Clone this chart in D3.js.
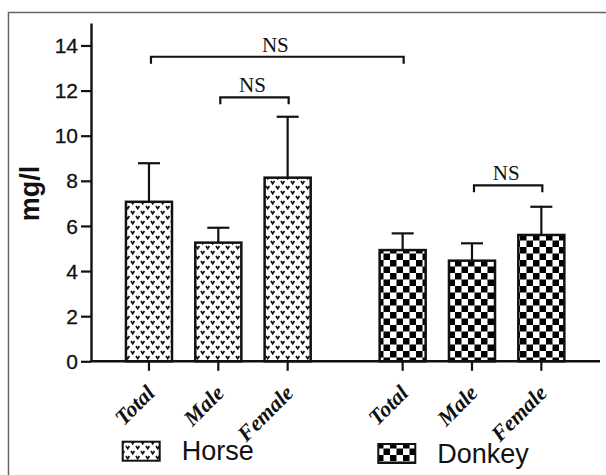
<!DOCTYPE html>
<html><head><meta charset="utf-8">
<script src="https://cdn.jsdelivr.net/npm/d3@7"></script>
<style>body{margin:0;background:#fff}svg{display:block}</style>
</head><body>
<svg id="c" width="606" height="475"></svg>
<script>
const groups = ["Horse", "Donkey"];
const subcats = ["Total", "Male", "Female"];
const horseMeans = [7.07, 5.26, 8.14];
const horseUpper = [8.78, 5.92, 10.84];
const donkeyMeans = [4.93, 4.46, 5.60];
const donkeyUpper = [5.67, 5.23, 6.85];
const yTicks = [0, 2, 4, 6, 8, 10, 12, 14];
const yLabel = "mg/l";
const brackets = [
  {g1: "Horse", c1: "Total", g2: "Donkey", c2: "Total", y: 13.5, label: "NS"},
  {g1: "Horse", c1: "Male", g2: "Horse", c2: "Female", y: 11.7, label: "NS"},
  {g1: "Donkey", c1: "Male", g2: "Donkey", c2: "Female", y: 7.8, label: "NS"}
];

const svg = d3.select("#c");
const defs = svg.append("defs");
const ph = defs.append("pattern").attr("id", "pHorse").attr("patternUnits", "userSpaceOnUse")
  .attr("width", 10).attr("height", 10);
ph.append("rect").attr("width", 10).attr("height", 10).attr("fill", "#fff");
[[1,1],[6,6]].forEach(([x,y]) => {
  ph.append("path").attr("d", `M${x},${y} l1.7,2.6 l1.7,-2.6`).attr("fill", "none")
    .attr("stroke", "#111").attr("stroke-width", 1.7);
});
const pd = defs.append("pattern").attr("id", "pDonkey").attr("patternUnits", "userSpaceOnUse")
  .attr("width", 13).attr("height", 13);
pd.append("rect").attr("width", 13).attr("height", 13).attr("fill", "#fff");
pd.append("rect").attr("width", 6.5).attr("height", 6.5).attr("fill", "#000");
pd.append("rect").attr("x", 6.5).attr("y", 6.5).attr("width", 6.5).attr("height", 6.5).attr("fill", "#000");

const fills = {Horse: "url(#pHorse)", Donkey: "url(#pDonkey)"};

svg.append("path").attr("d", "M8.5,475 V12.5 H606").attr("fill", "none")
  .attr("stroke", "#666").attr("stroke-width", 1.5);

const y = d3.scaleLinear().domain([0, 15]).range([361.3, 22.9]);
const x0 = d3.scaleBand().domain(groups).range([114.3, 576]).paddingInner(0.18).paddingOuter(0);
const x1 = d3.scaleBand().domain(subcats).range([0, x0.bandwidth()]).paddingInner(0.336).paddingOuter(0.168);
const cx = (g, c) => x0(g) + x1(c) + x1.bandwidth() / 2;

const data = [];
subcats.forEach((c, i) => data.push({g: "Horse", c, v: horseMeans[i], u: horseUpper[i]}));
subcats.forEach((c, i) => data.push({g: "Donkey", c, v: donkeyMeans[i], u: donkeyUpper[i]}));

const eb = svg.append("g").attr("stroke", "#111").attr("stroke-width", 2.2);
data.forEach(d => {
  const xc = cx(d.g, d.c);
  eb.append("line").attr("x1", xc).attr("x2", xc).attr("y1", y(d.v)).attr("y2", y(d.u));
  eb.append("line").attr("x1", xc - 11).attr("x2", xc + 11).attr("y1", y(d.u)).attr("y2", y(d.u));
});

svg.append("g").selectAll("rect").data(data).join("rect")
  .attr("x", d => x0(d.g) + x1(d.c))
  .attr("y", d => y(d.v))
  .attr("width", x1.bandwidth())
  .attr("height", d => y(0) - y(d.v))
  .attr("fill", d => fills[d.g])
  .attr("stroke", "#111").attr("stroke-width", 2.5);

const yAxis = svg.append("g").attr("transform", "translate(91,0)")
  .call(d3.axisLeft(y).tickValues(yTicks).tickSize(10).tickPadding(3).tickSizeOuter(0));
yAxis.select(".domain").attr("stroke", "#111").attr("stroke-width", 2.4);
yAxis.selectAll(".tick line").attr("stroke", "#111").attr("stroke-width", 2.2);
yAxis.selectAll(".tick text").attr("font-family", "Liberation Sans, Arial, sans-serif")
  .attr("font-size", 21).attr("fill", "#111").attr("dy", "0.34em")
  .attr("stroke", "#111").attr("stroke-width", 0.3);

svg.append("line").attr("x1", 90).attr("x2", 600).attr("y1", y(0)).attr("y2", y(0))
  .attr("stroke", "#111").attr("stroke-width", 2.4);
const xl = svg.append("g");
data.forEach(d => {
  const xc = cx(d.g, d.c);
  xl.append("line").attr("x1", xc).attr("x2", xc).attr("y1", y(0)).attr("y2", y(0) + 9.5)
    .attr("stroke", "#111").attr("stroke-width", 2.2);
  xl.append("text").attr("transform", `translate(${xc + 7},${y(0) + 33}) rotate(-45)`)
    .attr("text-anchor", "end")
    .attr("font-family", "Liberation Serif, Times New Roman, serif")
    .attr("font-style", "italic").attr("font-weight", "bold")
    .attr("font-size", 22).attr("fill", "#111").text(d.c);
});

svg.append("text").attr("transform", "translate(39,193.5) rotate(-90)")
  .attr("text-anchor", "middle").attr("font-family", "Liberation Sans, Arial, sans-serif")
  .attr("font-weight", "bold").attr("font-size", 27).attr("fill", "#111").text(yLabel);

const bg = svg.append("g");
brackets.forEach(b => {
  const xa = cx(b.g1, b.c1) + 2, xb = cx(b.g2, b.c2) + 1;
  const yy = y(b.y);
  bg.append("path").attr("d", `M${xa},${yy + 7} V${yy} H${xb} V${yy + 7}`)
    .attr("fill", "none").attr("stroke", "#111").attr("stroke-width", 2.2);
  bg.append("text").attr("x", (xa + xb) / 2 - 2).attr("y", yy - 5)
    .attr("text-anchor", "middle").attr("font-family", "Liberation Serif, Times New Roman, serif")
    .attr("font-size", 21).attr("fill", "#111").text(b.label);
});

const legendX = {Horse: 122.7, Donkey: 378.3};
const legendY = {Horse: 441.7, Donkey: 444};
groups.forEach(g => {
  svg.append("rect").attr("x", legendX[g]).attr("y", legendY[g]).attr("width", 37).attr("height", 19)
    .attr("fill", fills[g]).attr("stroke", "#111").attr("stroke-width", 2);
  svg.append("text").attr("x", legendX[g] + 59).attr("y", legendY[g] + 18.5)
    .attr("font-family", "Liberation Sans, Arial, sans-serif").attr("font-size", 27)
    .attr("fill", "#111").text(g);
});
</script>
</body></html>
